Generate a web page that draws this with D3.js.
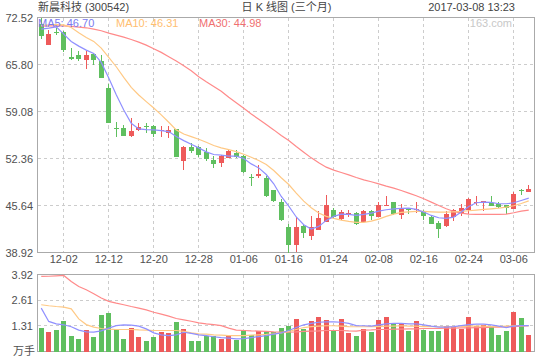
<!DOCTYPE html>
<html><head><meta charset="utf-8">
<script src="https://cdn.jsdelivr.net/npm/d3@7/dist/d3.min.js"></script>
<style>body{margin:0;background:#fff}svg{display:block}</style>
</head><body>
<svg id="c" width="540" height="360"></svg>
<script>
// ---------- data ----------
const dates = ["11-29","11-30","12-01","12-02","12-05","12-06","12-07","12-08","12-09","12-12","12-13","12-14","12-15","12-16","12-19","12-20","12-21","12-22","12-23","12-26","12-27","12-28","12-29","12-30","01-03","01-04","01-05","01-06","01-09","01-10","01-11","01-12","01-13","01-16","01-17","01-18","01-19","01-20","01-23","01-24","01-25","01-26","02-03","02-06","02-07","02-08","02-09","02-10","02-13","02-14","02-15","02-16","02-17","02-20","02-21","02-22","02-23","02-24","02-27","02-28","03-01","03-02","03-03","03-06","03-07","03-08"];
const open  = [71.66,68.53,70.43,70.43,66.81,67.10,66.43,67.24,66.24,62.39,56.68,56.68,55.54,56.45,57.06,56.97,56.25,56.06,56.54,52.02,53.97,53.97,53.35,52.12,51.74,52.50,53.12,52.69,49.69,49.83,49.60,47.79,46.08,42.56,40.04,42.75,41.32,42.08,43.27,44.94,43.70,44.27,44.51,43.22,44.84,44.03,45.55,46.12,44.32,45.17,45.03,44.84,43.98,43.18,42.65,43.98,44.56,45.03,46.03,46.08,45.98,45.89,45.74,45.17,47.84,47.55];
const high  = [72.52,70.71,71.09,70.52,68.10,67.67,67.76,67.38,67.19,63.01,57.63,57.21,58.11,57.49,57.49,57.21,57.02,57.06,56.54,54.21,54.59,54.21,53.88,52.69,52.88,53.59,53.59,52.88,50.17,51.36,49.79,47.88,46.60,43.03,43.98,43.03,44.08,44.84,47.12,45.32,44.98,44.94,44.65,45.03,45.03,46.08,46.98,46.12,45.89,45.32,46.12,44.94,44.22,43.41,44.84,45.17,45.89,46.70,46.98,46.32,46.98,46.12,45.74,47.55,47.98,48.60];
const low   = [69.43,68.53,70.05,67.53,66.43,66.24,65.15,65.77,63.86,57.44,55.40,55.54,55.40,56.35,56.06,55.49,55.49,55.30,52.59,50.74,53.21,52.64,52.02,51.02,51.17,52.45,52.50,50.26,48.45,49.60,46.84,46.08,43.37,38.92,39.00,40.99,40.75,42.08,43.27,43.65,43.56,44.03,42.79,43.18,43.56,43.98,45.51,44.22,43.65,44.46,44.60,43.51,42.94,41.04,42.56,43.41,44.13,44.46,45.65,44.84,45.51,45.27,44.46,45.17,47.08,47.55];
const close = [69.81,70.14,70.28,67.81,66.62,66.53,67.19,66.43,63.86,57.44,56.54,55.59,56.25,56.83,56.87,55.87,56.49,56.45,52.59,54.02,53.45,52.93,52.31,51.59,52.74,53.40,52.59,50.36,49.64,50.17,46.98,46.27,43.51,40.04,42.56,41.70,42.56,43.84,45.65,44.03,44.65,44.60,43.03,44.84,44.08,45.65,45.70,44.41,45.13,45.03,45.13,44.13,43.03,42.22,44.46,45.03,45.32,46.60,46.12,46.32,45.60,45.41,45.27,47.31,47.69,48.03];
const ma5  = [70.86,71.00,71.19,70.14,69.10,68.43,67.86,67.38,66.10,63.86,61.49,59.30,57.40,56.59,56.49,56.45,56.35,56.21,55.49,54.92,54.40,53.88,53.31,52.93,52.83,52.69,52.69,52.36,51.59,51.02,50.07,48.74,46.93,45.55,44.00,42.90,42.27,42.65,43.51,44.08,44.41,44.36,44.22,44.36,44.56,44.84,45.03,45.17,45.22,45.27,45.08,44.70,44.22,43.89,43.79,43.98,44.70,45.51,46.03,46.12,46.08,45.89,45.89,46.03,46.36,46.70];
const ma10 = [71.38,71.47,71.52,71.47,71.09,70.33,69.67,69.10,68.14,66.81,65.48,63.96,62.53,61.44,60.49,59.58,58.59,57.54,56.45,55.87,55.49,55.11,54.69,54.21,53.88,53.64,53.35,52.97,52.54,52.07,51.50,50.64,49.60,48.64,47.41,46.27,45.32,44.56,44.08,43.79,43.56,43.37,43.22,43.22,43.41,43.70,44.08,44.41,44.65,44.74,44.79,44.79,44.74,44.70,44.70,44.74,44.79,44.89,44.98,45.08,45.17,45.27,45.41,45.60,45.93,46.31];
const ma30 = [71.28,71.33,71.33,71.33,71.24,71.14,71.05,70.86,70.62,70.28,70.00,69.71,69.38,69.00,68.57,68.05,67.53,66.91,66.29,65.62,64.91,64.05,63.34,62.67,61.96,61.11,60.34,59.54,58.73,57.97,57.21,56.45,55.64,54.92,54.07,53.26,52.45,51.74,51.12,50.69,50.36,50.02,49.64,49.31,49.03,48.74,48.41,48.12,47.79,47.41,47.03,46.60,46.12,45.65,45.17,44.79,44.56,44.41,44.36,44.36,44.36,44.36,44.41,44.60,44.84,44.98];
const volume = [1.22,0.97,1.07,1.53,0.81,0.66,1.07,0.76,1.88,1.98,1.17,0.66,1.22,0.76,0.51,0.76,0.97,0.92,1.48,1.17,0.56,0.56,0.81,0.81,0.66,0.81,0.61,1.07,0.86,1.02,0.97,0.97,1.22,1.32,1.68,1.17,1.53,1.78,1.58,1.02,1.63,0.92,0.81,1.17,0.97,1.58,1.78,1.43,1.43,1.02,1.53,1.07,1.02,1.02,1.32,1.27,1.17,1.78,1.32,1.37,1.27,0.86,1.02,2.03,1.73,0.86];
const vma5  = [2.21,1.53,1.41,1.36,1.26,1.09,1.00,0.99,1.05,1.19,1.32,1.36,1.34,1.29,1.15,0.95,0.85,0.81,0.85,0.98,0.92,0.85,0.81,0.75,0.71,0.68,0.64,0.66,0.71,0.76,0.81,0.88,0.95,1.07,1.22,1.36,1.43,1.49,1.51,1.51,1.49,1.43,1.32,1.31,1.29,1.36,1.41,1.43,1.43,1.41,1.41,1.36,1.29,1.24,1.24,1.27,1.32,1.37,1.39,1.39,1.36,1.29,1.22,1.29,1.32,1.32];
const vma10 = [2.38,2.33,2.29,2.26,2.17,1.66,1.37,1.24,1.17,1.14,1.12,1.12,1.12,1.10,1.09,1.07,1.07,1.07,1.07,1.02,0.95,0.90,0.88,0.85,0.83,0.81,0.81,0.81,0.83,0.85,0.87,0.90,0.95,1.02,1.12,1.22,1.27,1.29,1.31,1.31,1.29,1.27,1.26,1.26,1.27,1.27,1.29,1.29,1.31,1.29,1.29,1.27,1.27,1.26,1.26,1.26,1.27,1.29,1.29,1.29,1.27,1.27,1.29,1.31,1.32,1.32];
const vma30 = [3.82,3.83,3.85,3.87,3.56,3.31,3.14,2.94,2.72,2.55,2.46,2.38,2.29,2.21,2.12,2.00,1.90,1.80,1.68,1.61,1.54,1.46,1.41,1.37,1.32,1.19,1.09,1.07,1.05,1.04,1.02,1.00,0.99,0.99,1.00,1.02,1.04,1.05,1.07,1.07,1.07,1.05,1.04,1.09,1.10,1.12,1.12,1.14,1.14,1.15,1.15,1.17,1.17,1.17,1.19,1.19,1.20,1.20,1.22,1.22,1.24,1.24,1.26,1.27,1.29,1.31];
const priceTicks = [38.92,45.64,52.36,59.08,65.80,72.52];
const volTicks = [1.31,2.61,3.92];
const dateTicks = ["12-02","12-12","12-20","12-28","01-06","01-16","01-24","02-08","02-16","02-24","03-06"];
const titleLeft = "新晨科技 (300542)";
const titleMid = "日 K 线图 (三个月)";
const titleRight = "2017-03-08 13:23";
const legendItems = [{t:"MA5: 46.70",c:"#7a7af0",x:38},{t:"MA10: 46.31",c:"#ffbe70",x:116},{t:"MA30: 44.98",c:"#f07070",x:199}];
const volUnit = "万手";
const watermark = "163.com";

// ---------- drawing ----------
const svg = d3.select("#c");
const FONT = '"Liberation Sans", Arial, "Noto Sans CJK SC", sans-serif';
const TXT = "#505050", GRID = "#cccccc", BORDER = "#aaaaaa";
const UP = "#ee5a5a", DOWN = "#5fbf5f";
const L = 37.5, R = 534.5, T = 17.5, B = 252.5, VT = 274.5, VB = 351.5;

const x = d3.scaleBand().domain(dates).range([37.5, 532.5]);
const cx = d => x(d) + x.bandwidth() / 2;
const y = d3.scaleLinear().domain([38.92, 72.52]).range([B, T]);
const yv = d3.scaleLinear().domain([0, 3.92]).range([VB, VT]);
const crisp = v => Math.round(v - 0.5) + 0.5;

svg.style("font-family", FONT);

// header
const hdr = svg.append("g").attr("font-size", 11).attr("fill", "#444");
hdr.append("text").attr("x", 38).attr("y", 10.5).text(titleLeft);
hdr.append("text").attr("x", 286.5).attr("y", 10.5).attr("text-anchor", "middle").text(titleMid);
hdr.append("text").attr("x", 515).attr("y", 10.5).attr("text-anchor", "end").text(titleRight);

// grid lines
const grid = svg.append("g").attr("stroke", GRID).attr("stroke-dasharray", "3,3").attr("shape-rendering", "crispEdges");
priceTicks.slice(1, -1).forEach(t => {
  grid.append("line").attr("x1", L).attr("x2", R).attr("y1", crisp(y(t))).attr("y2", crisp(y(t)));
});
volTicks.slice(0, -1).forEach(t => {
  grid.append("line").attr("x1", L).attr("x2", R).attr("y1", crisp(yv(t))).attr("y2", crisp(yv(t)));
});
dateTicks.forEach(d => {
  const xx = crisp(cx(d));
  grid.append("line").attr("x1", xx).attr("x2", xx).attr("y1", T).attr("y2", B);
  grid.append("line").attr("x1", xx).attr("x2", xx).attr("y1", VT).attr("y2", VB);
});

// axes labels
const yAxis = d3.axisLeft(y).tickValues(priceTicks).tickFormat(d3.format(".2f")).tickSize(0).tickPadding(4.5);
const ga = svg.append("g").attr("transform", `translate(${L},0)`).call(yAxis);
ga.select(".domain").remove();
ga.selectAll("text").attr("font-size", 11).attr("fill", TXT).attr("font-family", FONT);

const xAxis = d3.axisBottom(x).tickValues(dateTicks).tickSize(0).tickPadding(3);
const gx = svg.append("g").attr("transform", `translate(0,${B})`).call(xAxis);
gx.select(".domain").remove();
gx.selectAll("text").attr("font-size", 11).attr("fill", TXT).attr("font-family", FONT);

const vAxis = d3.axisLeft(yv).tickValues(volTicks).tickFormat(d3.format(".2f")).tickSize(0).tickPadding(4.5);
const gv = svg.append("g").attr("transform", `translate(${L},0)`).call(vAxis);
gv.select(".domain").remove();
gv.selectAll("text").attr("font-size", 11).attr("fill", TXT).attr("font-family", FONT);
svg.append("text").attr("x", 35).attr("y", 354.5).attr("text-anchor", "end")
  .attr("font-size", 11).attr("fill", TXT).text(volUnit);

// borders
const bd = svg.append("g").attr("fill", "none").attr("stroke", BORDER).attr("shape-rendering", "crispEdges");
bd.append("rect").attr("x", L).attr("y", T).attr("width", R - L).attr("height", B - T);
bd.append("rect").attr("x", L).attr("y", VT).attr("width", R - L).attr("height", VB - VT);

// candles
const idx = d3.range(dates.length);
const cg = svg.append("g").attr("shape-rendering", "crispEdges");
idx.forEach(i => {
  const up = close[i] >= open[i];
  const col = up ? UP : DOWN;
  const left = Math.round(cx(dates[i]) - 2.5);
  cg.append("line").attr("x1", left + 2.5).attr("x2", left + 2.5)
    .attr("y1", y(high[i])).attr("y2", y(low[i])).attr("stroke", col);
  const top = y(Math.max(open[i], close[i]));
  const bot = y(Math.min(open[i], close[i]));
  cg.append("rect").attr("x", left).attr("width", 5)
    .attr("y", top).attr("height", Math.max(1, bot - top)).attr("fill", col);
  const vt = yv(volume[i]);
  cg.append("rect").attr("x", left).attr("width", 5)
    .attr("y", vt).attr("height", VB - vt).attr("fill", col);
});

// MA lines
const lineP = d3.line().x((d, i) => cx(dates[i])).y(d => y(d));
const lineV = d3.line().x((d, i) => cx(dates[i])).y(d => yv(d));
[[ma30, "#ff8a8a"], [ma10, "#ffc985"], [ma5, "#9090ff"]].forEach(([s, c]) => {
  svg.append("path").attr("d", lineP(s)).attr("fill", "none").attr("stroke", c).attr("stroke-width", 1.2);
});
[[vma30, "#ff8a8a"], [vma10, "#ffc985"], [vma5, "#9090ff"]].forEach(([s, c]) => {
  svg.append("path").attr("d", lineV(s)).attr("fill", "none").attr("stroke", c).attr("stroke-width", 1.2);
});

// legend + watermark
const lg = svg.append("g").attr("font-size", 11);
legendItems.forEach(d => lg.append("text").attr("x", d.x).attr("y", 27).attr("fill", d.c).text(d.t));
lg.append("text").attr("x", 512).attr("y", 27).attr("text-anchor", "end").attr("fill", "#c8c8c8").text(watermark);
</script>
</body></html>
